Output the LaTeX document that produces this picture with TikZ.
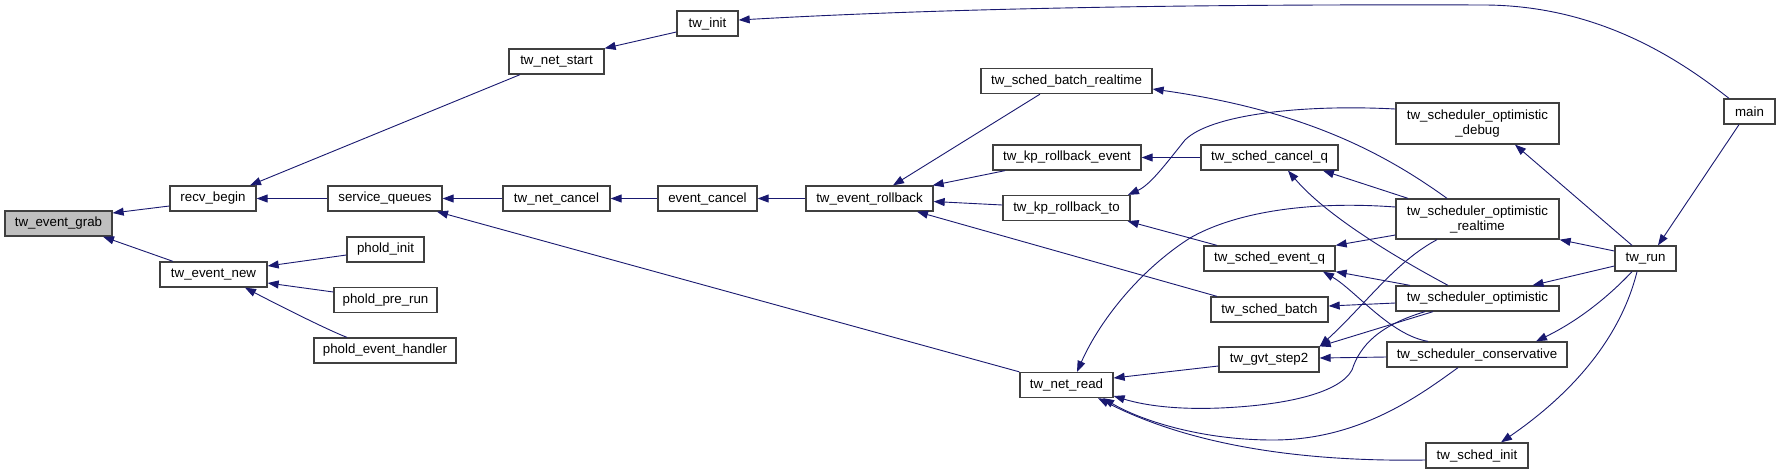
\documentclass[tikz,border=0pt]{standalone}
\usepackage{fontspec}
\setmainfont{Liberation Sans}
\usetikzlibrary{arrows.meta,calc}
\definecolor{edgec}{HTML}{191970}
\definecolor{rootfill}{HTML}{BFBFBF}
\definecolor{boxline}{HTML}{404040}
\begin{document}
\begin{tikzpicture}[x=1pt,y=-1pt,
  box/.style={draw=boxline, line width=1.3pt, fill=white, rectangle, inner sep=0pt,
    minimum height=25pt, font=\fontsize{13.3}{15}\selectfont, align=center},
  root/.style={box, fill=rootfill},
  edge/.style={draw=edgec, line width=0.9pt, -{Triangle[length=11pt,width=8pt]}}]
\useasboundingbox[fill=white] (0,0) rectangle (1781,475);

\node[root,minimum width=107pt] (grab) at (58.5,223.5) {tw\_event\_grab};
\node[box,minimum width=86pt] (recv) at (213,198.5) {recv\_begin};
\node[box,minimum width=107pt] (newev) at (213.5,274.5) {tw\_event\_new};
\node[box,minimum width=95pt] (netstart) at (556.5,61.5) {tw\_net\_start};
\node[box,minimum width=114pt] (svcq) at (385,198.5) {service\_queues};
\node[box,minimum width=77pt] (pinit) at (385.5,249.5) {phold\_init};
\node[box,minimum width=103pt] (ppre) at (385.5,300) {phold\_pre\_run};
\node[box,minimum width=142pt] (phandler) at (385,350.5) {phold\_event\_handler};
\node[box,minimum width=61pt] (twinit) at (707.5,23.5) {tw\_init};
\node[box,minimum width=107pt] (netcancel) at (556.5,198.5) {tw\_net\_cancel};
\node[box,minimum width=99pt] (evcancel) at (707.5,198.5) {event\_cancel};
\node[box,minimum width=127pt] (rollback) at (869.5,198.5) {tw\_event\_rollback};
\node[box,minimum width=171pt] (batchrt) at (1066.5,81) {tw\_sched\_batch\_realtime};
\node[box,minimum width=148pt] (kpevent) at (1067,157.5) {tw\_kp\_rollback\_event};
\node[box,minimum width=127pt] (kpto) at (1066.5,208) {tw\_kp\_rollback\_to};
\node[box,minimum width=93pt] (netread) at (1066.5,385) {tw\_net\_read};
\node[box,minimum width=137pt] (cancelq) at (1269.5,157.5) {tw\_sched\_cancel\_q};
\node[box,minimum width=131pt] (eventq) at (1269.5,258.5) {tw\_sched\_event\_q};
\node[box,minimum width=117pt] (batch) at (1269.5,309.5) {tw\_sched\_batch};
\node[box,minimum width=100pt] (gvt) at (1269,359.5) {tw\_gvt\_step2};
\node[box,minimum width=163pt,minimum height=41pt] (debug) at (1477.5,123.5) {tw\_scheduler\_optimistic\\\_debug};
\node[box,minimum width=163pt,minimum height=40pt] (realtime) at (1477.5,219) {tw\_scheduler\_optimistic\\\_realtime};
\node[box,minimum width=163pt] (optimistic) at (1477.5,298.5) {tw\_scheduler\_optimistic};
\node[box,minimum width=180pt] (conservative) at (1477,354.5) {tw\_scheduler\_conservative};
\node[box,minimum width=102pt] (schedinit) at (1477,455.5) {tw\_sched\_init};
\node[box,minimum width=61pt] (run) at (1645.5,258.5) {tw\_run};
\node[box,minimum width=51pt] (main) at (1749.5,111.5) {main};

\draw[edge] ($(recv.west)+(0,7.5)$) -- ($(grab.east)+(0,-10.5)$);
\draw[edge] ($(newev.north)+(-40.5,0)$) -- ($(grab.south)+(44.5,0)$);
\draw[edge] ($(netstart.south)+(-36.5,0)$) -- ($(recv.north)+(37,0)$);
\draw[edge] (svcq.west) -- (recv.east);
\draw[edge] ($(twinit.west)+(0,8.5)$) -- (netstart.north east);
\draw[edge] ($(main.north)+(-20.5,0)$) .. controls (1680,60) and (1600,6) .. (1486,5) .. controls (1200,4) and (950,8) .. ($(twinit.east)+(0,-3.5)$);
\draw[edge] (netcancel.west) -- (svcq.east);
\draw[edge] (netread.north west) -- ($(svcq.south)+(52,0)$);
\draw[edge] (evcancel.west) -- (netcancel.east);
\draw[edge] (rollback.west) -- (evcancel.east);
\draw[edge] ($(batchrt.south)+(-26.5,0)$) -- ($(rollback.north)+(23.5,0)$);
\draw[edge] ($(kpevent.south)+(-62,0)$) -- ($(rollback.north east)+(-1,0)$);
\draw[edge] ($(kpto.west)+(0,-3)$) -- ($(rollback.east)+(0,3)$);
\draw[edge] ($(batch.north)+(-52.5,0)$) -- ($(rollback.south)+(47.5,0)$);
\draw[edge] ($(pinit.west)+(0,5.5)$) -- ($(newev.east)+(0,-8.5)$);
\draw[edge] ($(ppre.west)+(0,-8)$) -- ($(newev.east)+(0,8.5)$);
\draw[edge] ($(phandler.north)+(-38,0)$) .. controls (330,331) and (280,306) .. ($(newev.south)+(31.5,0)$);
\draw[edge] ($(realtime.north)+(-30.5,0)$) .. controls (1380,150) and (1300,110) .. ($(batchrt.east)+(0,8)$);
\draw[edge] (cancelq.west) -- (kpevent.east);
\draw[edge] ($(debug.west)+(0,-14.5)$) .. controls (1300,104) and (1210,115) .. (1185,140) .. controls (1165,165) and (1150,185) .. ($(kpto.north)+(61.5,0)$);
\draw[edge] ($(eventq.north)+(-52.5,0)$) -- ($(kpto.south east)+(-3,0)$);
\draw[edge] ($(realtime.north)+(-69.5,0)$) -- ($(cancelq.south)+(53.5,0)$);
\draw[edge] ($(optimistic.north)+(-29.5,0)$) .. controls (1410,265) and (1330,220) .. ($(cancelq.south)+(18.5,0)$);
\draw[edge] ($(realtime.west)+(0,16)$) -- (eventq.north east);
\draw[edge] ($(optimistic.north)+(-67.5,0)$) -- (eventq.south east);
\draw[edge] ($(conservative.north)+(-49,0)$) .. controls (1390,335) and (1355,290) .. ($(eventq.south)+(53.5,0)$);
\draw[edge] ($(optimistic.west)+(0,4.5)$) -- ($(batch.east)+(0,-3.5)$);
\draw[edge] ($(optimistic.south)+(-44.5,0)$) -- (gvt.north east);
\draw[edge] ($(realtime.south)+(-40.5,0)$) .. controls (1395,262) and (1365,305) .. (gvt.north east);
\draw[edge] ($(conservative.west)+(0,2.5)$) -- ($(gvt.east)+(0,-1.5)$);
\draw[edge] ($(gvt.west)+(0,6.5)$) -- ($(netread.east)+(0,-7)$);
\draw[edge] ($(realtime.west)+(0,-12)$) .. controls (1300,200) and (1230,215) .. (1190,238) .. controls (1140,270) and (1100,320) .. ($(netread.north)+(10.5,0)$);
\draw[edge] ($(optimistic.south)+(-52.5,0)$) .. controls (1380,325) and (1360,345) .. (1352,370) .. controls (1340,392) and (1290,405) .. (1220,408) .. controls (1170,410) and (1140,404) .. ($(netread.east)+(0,11)$);
\draw[edge] ($(conservative.south)+(-19,0)$) .. controls (1420,395) and (1360,440) .. (1273,440) .. controls (1200,440) and (1140,420) .. ($(netread.south)+(36.5,0)$);
\draw[edge] ($(schedinit.west)+(0,4.5)$) .. controls (1300,462) and (1190,445) .. ($(netread.south)+(31.5,0)$);
\draw[edge] ($(run.north)+(-13.5,0)$) -- ($(debug.south)+(37.5,0)$);
\draw[edge] ($(run.west)+(0,-7.5)$) -- (realtime.south east);
\draw[edge] ($(run.west)+(0,7.5)$) -- ($(optimistic.north)+(55,0)$);
\draw[edge] ($(run.south)+(-13.5,0)$) .. controls (1610,295) and (1580,320) .. ($(conservative.north)+(59,0)$);
\draw[edge] ($(run.south)+(-8.5,0)$) .. controls (1620,340) and (1570,395) .. ($(schedinit.north)+(24,0)$);
\draw[edge] ($(main.south)+(-10.5,0)$) -- ($(run.north)+(12.5,0)$);
\end{tikzpicture}
\end{document}
